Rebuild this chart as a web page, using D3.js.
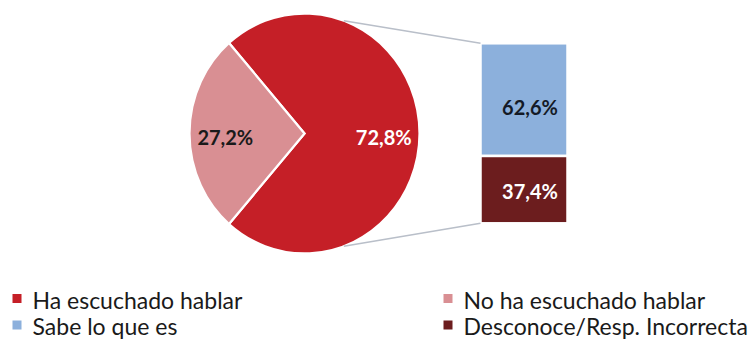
<!DOCTYPE html>
<html>
<head>
<meta charset="utf-8">
<script src="https://cdn.jsdelivr.net/npm/d3@7"></script>
<style>
  html, body { margin: 0; padding: 0; background: #fff; }
  svg { display: block; }
  text { font-family: Lato, "Open Sans", sans-serif; }
</style>
</head>
<body>
<svg id="chart" width="752" height="339"></svg>
<script>
// Pie: heard of it or not
const pieCategories = ["Ha escuchado hablar", "No ha escuchado hablar"];
const pieValues = [72.8, 27.2];
const pieColors = ["#c51f27", "#d98f93"];
const pieLabelColors = ["#ffffff", "#1a1a1a"];

// Bar: breakdown of those who have heard of it
const barCategories = ["Sabe lo que es", "Desconoce/Resp. Incorrecta"];
const barValues = [62.6, 37.4];
const barColors = ["#8cb0dc", "#6c1d1e"];
const barLabelColors = ["#141a26", "#ffffff"];

// Legend layout: two columns, two rows
const legendItems = [
  { name: "Ha escuchado hablar", color: "#c51f27", col: 0, row: 0 },
  { name: "No ha escuchado hablar", color: "#d98f93", col: 1, row: 0 },
  { name: "Sabe lo que es", color: "#8cb0dc", col: 0, row: 1 },
  { name: "Desconoce/Resp. Incorrecta", color: "#6c1d1e", col: 1, row: 1 }
];

const fmt = v => d3.format(".1f")(v).replace(".", ",") + "%";

const svg = d3.select("#chart");

// ---- pie (drawn slightly taller than wide) ----
const cx = 304.5, cy = 133.5, rx = 115, ry = 120;
const total = d3.sum(pieValues);
const smallShare = pieValues[1] / total;
// Put the smaller slice centred on the left side
const start = -Math.PI / 2 + smallShare * Math.PI;

const pie = d3.pie().sort(null).value(d => d)
  .startAngle(start).endAngle(start + 2 * Math.PI);
const arcs = pie(pieValues);
const arc = d3.arc().innerRadius(0).outerRadius(rx);
const labelArc = d3.arc().innerRadius(rx * 0.68).outerRadius(rx * 0.68);

const pieG = svg.append("g")
  .attr("transform", `translate(${cx},${cy}) scale(1,${ry / rx})`);
pieG.selectAll("path")
  .data(arcs)
  .join("path")
  .attr("d", arc)
  .attr("fill", (d, i) => pieColors[i])
  .attr("stroke", "#fff")
  .attr("stroke-width", 2.2)
  .attr("stroke-linejoin", "miter");

const tallText = "scale(1,1.06)";

svg.append("g").selectAll("text")
  .data(arcs)
  .join("text")
  .attr("transform", d =>
    `translate(${cx + labelArc.centroid(d)[0] + (d.index === 0 ? 1 : -1)},${cy + labelArc.centroid(d)[1] * ry / rx + 3}) ${tallText}`)
  .attr("text-anchor", "middle")
  .attr("dominant-baseline", "central")
  .attr("font-weight", 700)
  .attr("font-size", 20)
  .attr("fill", (d, i) => pieLabelColors[i])
  .text(d => fmt(d.data));

// ---- stacked bar ----
const barX = 480.5, barW = 87;
const y = d3.scaleLinear().domain([0, d3.sum(barValues)]).range([43.3, 223.3]);
const stacks = [];
let acc = 0;
barValues.forEach((v, i) => { stacks.push({ v, i, y0: acc, y1: acc + v }); acc += v; });

const barG = svg.append("g");
barG.selectAll("rect")
  .data(stacks)
  .join("rect")
  .attr("x", barX)
  .attr("y", d => y(d.y0))
  .attr("width", barW)
  .attr("height", d => y(d.y1) - y(d.y0))
  .attr("fill", d => barColors[d.i])
  .attr("stroke", "#fff")
  .attr("stroke-width", 2.5);

barG.selectAll("text")
  .data(stacks)
  .join("text")
  .attr("transform", d =>
    `translate(${barX + barW / 2 + 6},${(y(d.y0) + y(d.y1)) / 2 + (d.i === 0 ? 7 : 1)}) ${tallText}`)
  .attr("text-anchor", "middle")
  .attr("dominant-baseline", "central")
  .attr("font-weight", 700)
  .attr("font-size", 20)
  .attr("fill", d => barLabelColors[d.i])
  .text(d => fmt(d.v));

// ---- connector lines from the pie rim to the bar corners ----
const connAngle = 20 * Math.PI / 180;
const rimPoint = a => [cx + rx * Math.sin(a), cy - ry * Math.cos(a)];
const connectors = [
  [rimPoint(connAngle), [barX, y(0)]],
  [rimPoint(Math.PI - connAngle), [barX, y(d3.sum(barValues))]]
];
svg.append("g").selectAll("line")
  .data(connectors)
  .join("line")
  .attr("x1", d => d[0][0]).attr("y1", d => d[0][1])
  .attr("x2", d => d[1][0]).attr("y2", d => d[1][1])
  .attr("stroke", "#b9bfc9")
  .attr("stroke-width", 1.5);

// ---- legend ----
const colX = [12.5, 443.5], rowY = [298.5, 325];
const leg = svg.append("g").selectAll("g")
  .data(legendItems)
  .join("g")
  .attr("transform", d => `translate(${colX[d.col]},${rowY[d.row]})`);
leg.append("rect")
  .attr("x", 0).attr("y", -4.5)
  .attr("width", 9).attr("height", 9)
  .attr("fill", d => d.color);
leg.append("text")
  .attr("x", 20)
  .attr("y", 10)
  .attr("font-size", 23)
  .attr("fill", "#1a1a1a")
  .text(d => d.name);
</script>
</body>
</html>
